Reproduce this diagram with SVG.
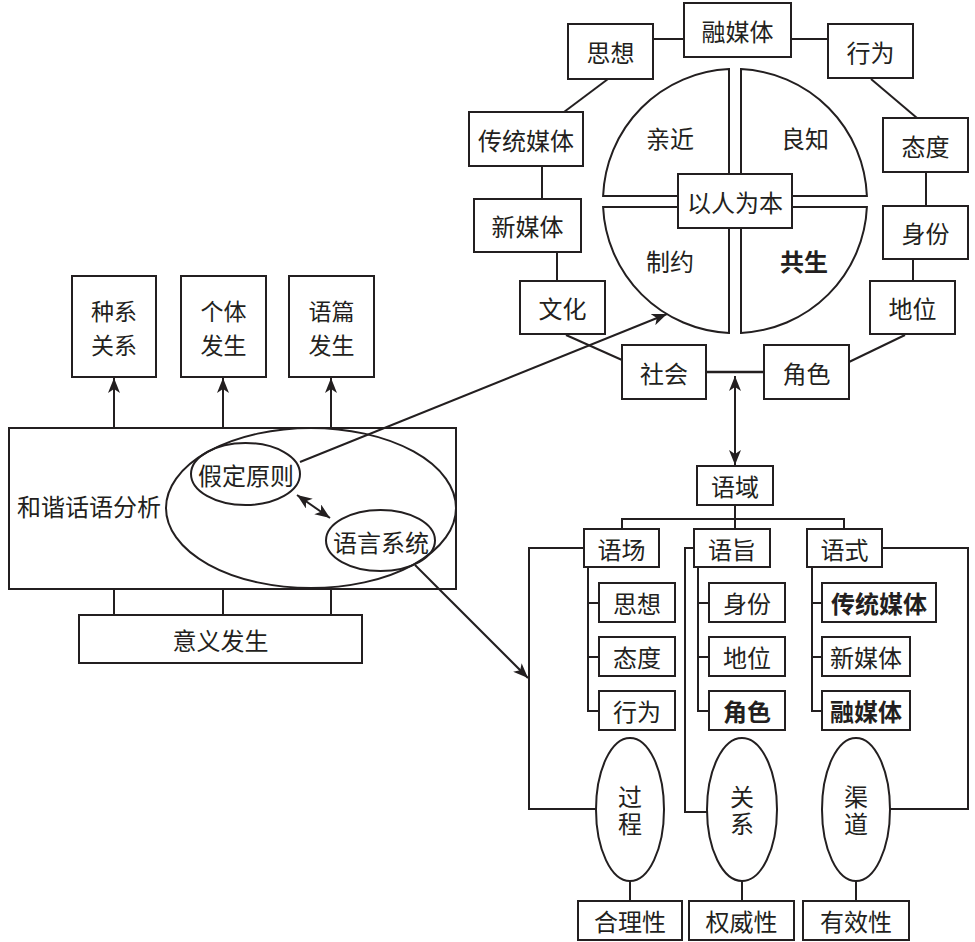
<svg xmlns="http://www.w3.org/2000/svg" width="975" height="942" viewBox="0 0 975 942">
<defs>
<marker id="ah" markerUnits="userSpaceOnUse" markerWidth="16" markerHeight="12" viewBox="0 0 16 12" refX="15" refY="6" orient="auto-start-reverse">
<path d="M0,0 L15,6 L0,12 L4,6 Z" fill="#231f20"/>
</marker>
</defs>
<style>
rect,ellipse,path.q{fill:#fff;stroke:#231f20;stroke-width:2}
.nf{fill:none}
line,polyline{stroke:#231f20;stroke-width:2;fill:none}
text{font-family:"Noto Sans CJK SC","Noto Sans",sans-serif;font-size:24px;fill:#231f20;text-anchor:middle;dominant-baseline:central}
.b{font-weight:bold}
.t{font-size:23px}
.v{writing-mode:vertical-rl;letter-spacing:3px;dominant-baseline:auto}
</style>
<rect x="0" y="0" width="975" height="942" style="fill:#fff;stroke:none"/>

<g id="n-main"><rect class="nf" x="9" y="428" width="447" height="161"/><text x="89" y="505">和谐话语分析</text>
<ellipse class="nf" cx="311" cy="508" rx="145" ry="80"/></g>

<g id="connectors">
<line x1="653" y1="39" x2="684" y2="39"/>
<line x1="791" y1="39" x2="828" y2="39"/>
<line x1="608" y1="79" x2="564" y2="112"/>
<line x1="542" y1="166" x2="542" y2="199"/>
<line x1="557" y1="252" x2="557" y2="281"/>
<line x1="566" y1="335" x2="622" y2="360"/>
<line x1="706" y1="372" x2="764" y2="372" style="stroke-width:2.6"/>
<line x1="905" y1="335" x2="849" y2="362"/>
<line x1="913" y1="259" x2="913" y2="281"/>
<line x1="926" y1="172" x2="926" y2="206"/>
<line x1="871" y1="79" x2="917" y2="118"/>
<line x1="735" y1="376" x2="735" y2="465" marker-start="url(#ah)" marker-end="url(#ah)"/>
<line x1="114" y1="428" x2="114" y2="378" marker-end="url(#ah)"/>
<line x1="223" y1="428" x2="223" y2="378" marker-end="url(#ah)"/>
<line x1="331" y1="428" x2="331" y2="378" marker-end="url(#ah)"/>
<line x1="114" y1="589" x2="114" y2="615"/>
<line x1="223" y1="589" x2="223" y2="615"/>
<line x1="331" y1="589" x2="331" y2="615"/>
<line x1="297" y1="495" x2="330" y2="518" marker-start="url(#ah)" marker-end="url(#ah)"/>
<line x1="300" y1="462" x2="667" y2="314" marker-end="url(#ah)"/>
<line x1="415" y1="565" x2="528" y2="678" marker-end="url(#ah)"/>
<line x1="735" y1="505" x2="735" y2="529"/>
<polyline points="622,529 622,519 844,519 844,529"/>
<polyline points="584,548 529,548 529,809 596,809"/>
<polyline points="694,548 685,548 685,812 707,812"/>
<polyline points="882,548 968,548 968,809 890,809"/>
<polyline points="588,567 588,711 599,711"/>
<line x1="588" y1="603" x2="599" y2="603"/>
<line x1="588" y1="657" x2="599" y2="657"/>
<polyline points="698,567 698,711 709,711"/>
<line x1="698" y1="603" x2="709" y2="603"/>
<line x1="698" y1="657" x2="709" y2="657"/>
<polyline points="812,567 812,711 822,711"/>
<line x1="812" y1="603" x2="822" y2="603"/>
<line x1="812" y1="657" x2="822" y2="657"/>
<line x1="630" y1="881" x2="630" y2="901"/>
<line x1="742" y1="881" x2="742" y2="901"/>
<line x1="856" y1="881" x2="856" y2="901"/>
</g>

<g id="circle">
<path class="q" d="M729,69.1 L729,196 L603.1,196 A132,132 0 0 1 729,69.1 Z"/>
<path class="q" d="M741,69.1 A132,132 0 0 1 866.9,196 L741,196 Z"/>
<path class="q" d="M603.1,207 L729,207 L729,332.9 A132,132 0 0 1 603.1,207 Z"/>
<path class="q" d="M741,207 L866.9,207 A132,132 0 0 1 741,332.9 Z"/>
<text x="670" y="137">亲近</text>
<text x="805" y="137">良知</text>
<text x="670" y="260">制约</text>
<text x="804" y="260" class="b">共生</text>
</g>
<g id="n-core"><rect x="678" y="174" width="114" height="54"/><text x="735" y="201">以人为本</text></g>
<g id="n-rongmeiti"><rect x="684" y="3" width="107" height="54"/><text x="737.5" y="30">融媒体</text></g>
<g id="n-sixiang"><rect x="568" y="24" width="85" height="55"/><text x="610.5" y="51.5">思想</text></g>
<g id="n-xingwei"><rect x="828" y="24" width="85" height="54"/><text x="870.5" y="51">行为</text></g>
<g id="n-chuantong"><rect x="469" y="112" width="114" height="54"/><text x="526" y="139">传统媒体</text></g>
<g id="n-xinmeiti"><rect x="474" y="199" width="107" height="53"/><text x="527.5" y="225.5">新媒体</text></g>
<g id="n-wenhua"><rect x="520" y="281" width="85" height="53"/><text x="562.5" y="307.5">文化</text></g>
<g id="n-shehui"><rect x="622" y="345" width="84" height="54"/><text x="664" y="372">社会</text></g>
<g id="n-juese"><rect x="764" y="345" width="85" height="54"/><text x="806.5" y="372">角色</text></g>
<g id="n-diwei"><rect x="870" y="281" width="85" height="53"/><text x="912.5" y="307.5">地位</text></g>
<g id="n-shenfen"><rect x="883" y="206" width="85" height="53"/><text x="925.5" y="232.5">身份</text></g>
<g id="n-taidu"><rect x="883" y="118" width="85" height="54"/><text x="925.5" y="145">态度</text></g>

<g id="n-zhongxi"><rect x="72" y="276" width="84" height="101"/><text class="t" x="114" y="310">种系</text><text class="t" x="114" y="344">关系</text></g>
<g id="n-geti"><rect x="181" y="276" width="85" height="101"/><text class="t" x="223.5" y="310">个体</text><text class="t" x="223.5" y="344">发生</text></g>
<g id="n-yupian"><rect x="289" y="276" width="85" height="101"/><text class="t" x="331.5" y="310">语篇</text><text class="t" x="331.5" y="344">发生</text></g>
<g id="n-jiading"><ellipse class="nf" cx="245.5" cy="474" rx="54.5" ry="31"/><text x="246" y="474">假定原则</text></g>
<g id="n-yuyan"><ellipse class="nf" cx="380.5" cy="540.5" rx="54.5" ry="30.5"/><text x="381" y="541">语言系统</text></g>
<g id="n-yiyi"><rect x="79" y="615" width="283" height="48"/><text x="220.5" y="639">意义发生</text></g>

<g id="n-yuyu"><rect x="697" y="466" width="76" height="39"/><text x="735" y="485.5">语域</text></g>
<g id="n-yuchang"><rect x="584" y="529" width="75" height="38"/><text x="621.5" y="548">语场</text></g>
<g id="n-yuzhi"><rect x="694" y="529" width="76" height="38"/><text x="732" y="548">语旨</text></g>
<g id="n-yushi"><rect x="807" y="529" width="75" height="38"/><text x="844.5" y="548">语式</text></g>
<g id="n-f1"><rect x="599" y="583" width="76" height="39"/><text x="637" y="602.5">思想</text></g>
<g id="n-f2"><rect x="599" y="637" width="76" height="39"/><text x="637" y="656.5">态度</text></g>
<g id="n-f3"><rect x="599" y="691" width="76" height="39"/><text x="637" y="710.5">行为</text></g>
<g id="n-t1"><rect x="709" y="583" width="76" height="39"/><text x="747" y="602.5">身份</text></g>
<g id="n-t2"><rect x="709" y="637" width="76" height="39"/><text x="747" y="656.5">地位</text></g>
<g id="n-t3"><rect x="709" y="691" width="76" height="39"/><text x="747" y="710.5" class="b">角色</text></g>
<g id="n-m1"><rect x="822" y="583" width="114" height="39"/><text x="879" y="602.5" class="b">传统媒体</text></g>
<g id="n-m2"><rect x="822" y="637" width="88" height="39"/><text x="866" y="656.5">新媒体</text></g>
<g id="n-m3"><rect x="822" y="691" width="88" height="39"/><text x="866" y="710.5" class="b">融媒体</text></g>
<g id="n-guocheng"><ellipse cx="630" cy="809.5" rx="34" ry="71.5"/><text class="v" x="630" y="812">过程</text></g>
<g id="n-guanxi"><ellipse cx="742" cy="809.5" rx="35" ry="71.5"/><text class="v" x="742" y="812">关系</text></g>
<g id="n-qudao"><ellipse cx="856" cy="809.5" rx="34" ry="71.5"/><text class="v" x="856" y="812">渠道</text></g>
<g id="n-heli"><rect x="578" y="901" width="104" height="39"/><text x="630" y="920.5">合理性</text></g>
<g id="n-quanwei"><rect x="689" y="901" width="105" height="39"/><text x="741.5" y="920.5">权威性</text></g>
<g id="n-youxiao"><rect x="803" y="901" width="106" height="39"/><text x="856" y="920.5">有效性</text></g>
</svg>
